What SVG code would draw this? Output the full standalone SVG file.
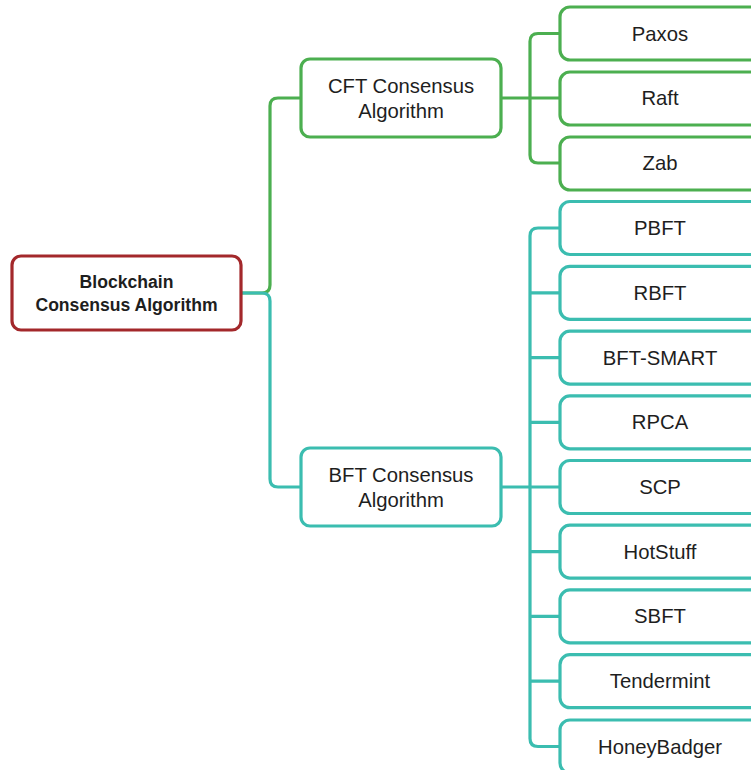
<svg xmlns="http://www.w3.org/2000/svg" width="751" height="770" viewBox="0 0 751 770">
<style>
text{font-family:"Liberation Sans",Arial,sans-serif;fill:#1e1e1e;text-anchor:middle;dominant-baseline:central}
.lbl{font-size:20.3px}
.root{font-size:17.6px;font-weight:bold}
.box{fill:#fff;stroke-width:3.2}
.g{stroke:#4caf50}
.t{stroke:#3bbdb0}
.r{stroke:#a3282b}
.c{fill:none;stroke-width:3.2;stroke-linejoin:round}
</style>
<rect width="751" height="770" fill="#fff"/>
<g id="connectors">
<path class="c g" d="M242 293 H262 Q270 293 270 285 V106 Q270 98 278 98 H301"/>
<path class="c t" d="M242 293 H262 Q270 293 270 301 V479 Q270 487 278 487 H301"/>
<path class="c g" d="M502 98 H530 M560 33.5 H538 Q530 33.5 530 41.5 V155 Q530 163 538 163 H560 M530 98 H560"/>
<path class="c t" d="M502 487 H530 M560 228 H538 Q530 228 530 236 V738.5 Q530 746.5 538 746.5 H560 M530 292.8 H560 M530 357.6 H560 M530 422.4 H560 M530 551.6 H560 M530 616.4 H560 M530 681.2 H560 M530 487 H560"/>
</g>
<g id="root"><rect class="box r" x="12" y="256" width="229" height="74" rx="9"/><text class="root" x="126.5" y="282">Blockchain</text><text class="root" x="126.5" y="305">Consensus Algorithm</text></g>
<g id="cft"><rect class="box g" x="301" y="59" width="200" height="78" rx="9"/><text class="lbl" x="401" y="86">CFT Consensus</text><text class="lbl" x="401" y="111">Algorithm</text></g>
<g id="bft"><rect class="box t" x="301" y="448" width="200" height="78" rx="9"/><text class="lbl" x="401" y="475">BFT Consensus</text><text class="lbl" x="401" y="500">Algorithm</text></g>
<g id="paxos"><rect class="box g" x="560" y="7" width="210" height="53" rx="10"/><text class="lbl" x="660" y="33.5">Paxos</text></g>
<g id="raft"><rect class="box g" x="560" y="72" width="210" height="53" rx="10"/><text class="lbl" x="660" y="98">Raft</text></g>
<g id="zab"><rect class="box g" x="560" y="137" width="210" height="53" rx="10"/><text class="lbl" x="660" y="163">Zab</text></g>
<g id="pbft"><rect class="box t" x="560" y="201.5" width="210" height="53" rx="10"/><text class="lbl" x="660" y="228">PBFT</text></g>
<g id="rbft"><rect class="box t" x="560" y="266.3" width="210" height="53" rx="10"/><text class="lbl" x="660" y="292.8">RBFT</text></g>
<g id="bftsmart"><rect class="box t" x="560" y="331.1" width="210" height="53" rx="10"/><text class="lbl" x="660" y="357.6">BFT-SMART</text></g>
<g id="rpca"><rect class="box t" x="560" y="395.9" width="210" height="53" rx="10"/><text class="lbl" x="660" y="422.4">RPCA</text></g>
<g id="scp"><rect class="box t" x="560" y="460.5" width="210" height="53" rx="10"/><text class="lbl" x="660" y="487">SCP</text></g>
<g id="hotstuff"><rect class="box t" x="560" y="525.1" width="210" height="53" rx="10"/><text class="lbl" x="660" y="551.6">HotStuff</text></g>
<g id="sbft"><rect class="box t" x="560" y="589.9" width="210" height="53" rx="10"/><text class="lbl" x="660" y="616.4">SBFT</text></g>
<g id="tendermint"><rect class="box t" x="560" y="654.7" width="210" height="53" rx="10"/><text class="lbl" x="660" y="681.2">Tendermint</text></g>
<g id="honeybadger"><rect class="box t" x="560" y="720" width="210" height="53" rx="10"/><text class="lbl" x="660" y="746.5">HoneyBadger</text></g>
</svg>
